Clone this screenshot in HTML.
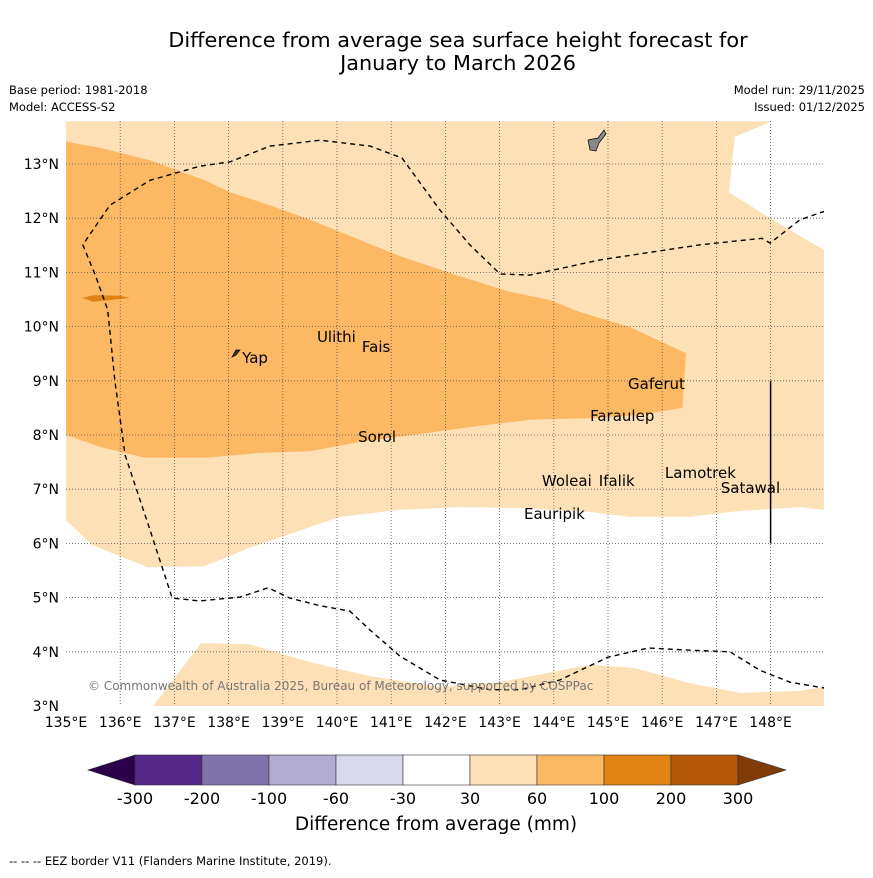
<!DOCTYPE html>
<html><head><meta charset="utf-8"><style>
body{margin:0;background:#fff;font-family:"Liberation Sans","DejaVu Sans",sans-serif;}
</style></head><body>
<svg width="873" height="873" viewBox="0 0 873 873" xmlns="http://www.w3.org/2000/svg" font-family="DejaVu Sans, Liberation Sans, sans-serif">
<text x="458" y="47" text-anchor="middle" font-size="20.8">Difference from average sea surface height forecast for</text>
<text x="458" y="70" text-anchor="middle" font-size="20.8">January to March 2026</text>
<text x="9" y="94" font-size="11.5">Base period: 1981-2018</text>
<text x="9" y="111" font-size="11.5">Model: ACCESS-S2</text>
<text x="865" y="94" font-size="11.5" text-anchor="end">Model run: 29/11/2025</text>
<text x="865" y="111" font-size="11.5" text-anchor="end">Issued: 01/12/2025</text>
<g id="map"></g>
<g id="cbar"></g>
<text x="436" y="830" text-anchor="middle" font-size="18.5">Difference from average (mm)</text>
<text x="9" y="865" font-size="11.5">--  --  -- EEZ border V11 (Flanders Marine Institute, 2019).</text>
</svg>
<script>
const lonTicks=[135,136,137,138,139,140,141,142,143,144,145,146,147,148];
const latTicks=[3,4,5,6,7,8,9,10,11,12,13];
const lightRegion=[[148.03,13.79],[147.34,13.5],[147.23,12.48],[147.99,12.0],[148.73,11.56],[149,11.41],[149,6.62],[148.54,6.67],[147.44,6.6],[146.51,6.49],[145.41,6.49],[144.67,6.58],[143.56,6.65],[142.27,6.67],[141.16,6.62],[140.06,6.49],[139.5,6.3],[138.39,5.92],[137.55,5.58],[136.51,5.56],[135.48,5.97],[135,6.43],[135,13.79]];
const lightSouth=[[136.61,3.0],[137.49,4.16],[138.39,4.14],[139.5,3.81],[140.61,3.55],[141.9,3.35],[143.01,3.44],[144.67,3.76],[145.5,3.7],[146.51,3.42],[147.44,3.24],[148.54,3.28],[149,3.35],[149,3.0]];
const midRegion=[[135,13.41],[135.63,13.3],[136.55,13.07],[137.56,12.7],[138.03,12.48],[138.76,12.24],[139.5,11.97],[140.42,11.6],[141.16,11.3],[142.27,10.93],[143.19,10.64],[143.93,10.49],[144.48,10.27],[145.41,9.99],[146.44,9.51],[146.37,8.5],[145.59,8.37],[144.67,8.31],[143.56,8.28],[142.64,8.17],[141.53,8.02],[140.42,7.87],[139.5,7.7],[138.58,7.67],[137.56,7.58],[136.46,7.58],[135.63,7.78],[135,8.0]];
const darkBlob=[[135.3,10.53],[135.5,10.58],[136.0,10.57],[136.18,10.53],[135.9,10.5],[135.5,10.46]];
const eez=[[149,12.13],[148.54,11.97],[147.99,11.54],[147.84,11.63],[146.7,11.51],[144.85,11.23],[143.56,10.95],[143.01,10.97],[142.45,11.51],[141.9,12.15],[141.2,13.11],[140.61,13.33],[139.69,13.44],[138.76,13.33],[138.03,13.04],[137.47,12.96],[136.55,12.7],[135.81,12.24],[135.31,11.51],[135.54,10.95],[135.77,10.31],[135.9,9.01],[136.09,7.63],[136.55,6.25],[136.96,4.99],[137.47,4.94],[138.21,5.01],[138.73,5.18],[139.13,4.99],[139.69,4.85],[140.24,4.75],[140.61,4.4],[141.16,3.92],[141.9,3.48],[142.82,3.3],[143.38,3.3],[144.11,3.48],[145.0,3.9],[145.74,4.07],[146.51,4.03],[147.25,4.0],[147.8,3.66],[148.36,3.44],[149,3.33]];
const islandNames=["Yap","Ulithi","Fais","Sorol","Gaferut","Faraulep","Woleai","Ifalik","Lamotrek","Satawal","Eauripik"];
const islandLon=[138.25,139.63,140.46,140.39,145.37,144.67,143.78,144.83,146.05,147.08,143.45];
const islandLat=[9.33,9.72,9.53,7.87,8.85,8.26,7.06,7.06,7.21,6.93,6.45];
const cbLabels=["-300","-200","-100","-60","-30","30","60","100","200","300"];
const cbColors=["#542788","#8073ac","#b2abd2","#d8daeb","#ffffff","#fee0b6","#fdb863","#e08214","#b35806"];
const NS="http://www.w3.org/2000/svg";
const X=lon=>66+(lon-135)*54.2, Y=lat=>164+(13-lat)*54.2;
const map=document.getElementById('map');
function mk(tag,attrs,parent){const e=document.createElementNS(NS,tag);for(const k in attrs)e.setAttribute(k,attrs[k]);(parent||map).appendChild(e);return e;}
const pts=a=>a.map(p=>X(p[0]).toFixed(1)+','+Y(p[1]).toFixed(1)).join(' ');
const defs=mk('defs',{});const cp=mk('clipPath',{id:'clip'},defs);mk('rect',{x:66,y:121,width:758,height:585},cp);
const g=mk('g',{'clip-path':'url(#clip)'});
let e;
e=mk('polygon',{points:pts(lightRegion),fill:'#fee0b6'},g);


e=mk('polygon',{points:pts(lightSouth),fill:'#fee0b6'},g);


e=mk('polygon',{points:pts(midRegion),fill:'#fdb863'},g);


e=mk('polygon',{points:pts(darkBlob),fill:'#e08214'},g);


lonTicks.forEach(l=>{if(l>135){e=mk('line',{x1:X(l),x2:X(l),y1:121,y2:706,stroke:'#555','stroke-width':0.8,'stroke-dasharray':'1,2'},g);

}});
latTicks.forEach(l=>{if(l>3){e=mk('line',{x1:66,x2:824,y1:Y(l),y2:Y(l),stroke:'#555','stroke-width':0.8,'stroke-dasharray':'1,2'},g);

}});
e=mk('polyline',{points:pts(eez),fill:'none',stroke:'#000','stroke-width':1.4,'stroke-dasharray':'5,4'},g);


e=mk('line',{x1:X(148),x2:X(148),y1:Y(9),y2:Y(6),stroke:'#000','stroke-width':1.5},g);


e=mk('path',{d:'M588,140 L598,138 L604,130 L606,134 L599,143 L596,151 L590,150 Z',fill:'#888',stroke:'#000','stroke-width':0.7},g);


e=mk('path',{d:'M232,357 L236,350 L240,350 L236,355 Z',fill:'#333',stroke:'#000','stroke-width':0.7},g);


islandNames.forEach((n,i)=>{
 e=mk('text',{x:X(islandLon[i]),y:Y(islandLat[i]),'font-size':15},g);e.textContent=n;
 
 
});
e=mk('text',{x:88,y:690,'font-size':12,fill:'#777'},g);e.textContent='© Commonwealth of Australia 2025, Bureau of Meteorology, supported by COSPPac';


lonTicks.forEach(l=>{e=mk('text',{x:X(l),y:727,'font-size':14,'text-anchor':'middle'});e.textContent=l+'°E';

});
latTicks.forEach(l=>{e=mk('text',{x:59,y:Y(l)+5,'font-size':14,'text-anchor':'end'});e.textContent=l+'°N';

});
const cb=document.getElementById('cbar');
const cx0=135,cw=67,cy=755,ch=30;
e=mk('polygon',{points:`${cx0},${cy} ${cx0},${cy+ch} 88,${cy+ch/2}`,fill:'#2d004b',stroke:'#333','stroke-width':0.6},cb);


cbColors.forEach((c,i)=>{e=mk('rect',{x:cx0+i*cw,y:cy,width:cw,height:ch,fill:c,stroke:'#333','stroke-width':0.6},cb);

});
const xe=cx0+cbColors.length*cw;
e=mk('polygon',{points:`${xe},${cy} ${xe},${cy+ch} 786,${cy+ch/2}`,fill:'#7f3b08',stroke:'#333','stroke-width':0.6},cb);


cbLabels.forEach((t,i)=>{e=mk('text',{x:cx0+i*cw,y:804,'font-size':16,'text-anchor':'middle'},cb);e.textContent=t;

});
</script>
</body></html>
